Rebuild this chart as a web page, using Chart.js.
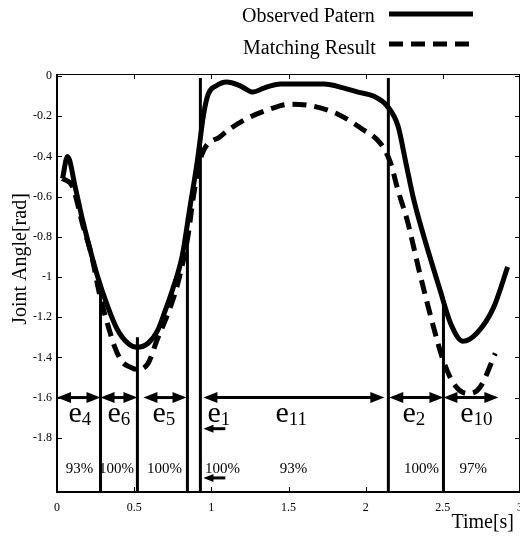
<!DOCTYPE html>
<html>
<head>
<meta charset="utf-8">
<script src="https://cdn.jsdelivr.net/npm/chart.js@4.4.1/dist/chart.umd.min.js"></script>
<style>
    html, body { margin: 0; padding: 0; background: #fff; }
    #wrap { width: 520px; height: 537px; }
</style>
</head>
<body>
<div id="wrap"><canvas id="angleChart" width="520" height="537"></canvas></div>
<script>
// Joint angle: observed pattern vs matching result

// observed pattern (solid)
const observedTime = [0.036, 0.068, 0.12, 0.17, 0.26, 0.33, 0.39, 0.46, 0.52, 0.59, 0.65, 0.70, 0.75, 0.81, 0.86, 0.91, 0.95, 0.98,
    1.03, 1.10, 1.19, 1.27, 1.34, 1.45, 1.60, 1.73, 1.86, 1.95, 2.05, 2.14, 2.21, 2.26, 2.31, 2.37, 2.48, 2.55, 2.63, 2.72, 2.83, 2.92];
const observedAngle = [-0.51, -0.40, -0.56, -0.73, -0.99, -1.15, -1.26, -1.33, -1.35, -1.33, -1.27, -1.17, -1.06, -0.90, -0.66, -0.42, -0.19, -0.09,
    -0.05, -0.03, -0.05, -0.08, -0.06, -0.04, -0.04, -0.04, -0.06, -0.08, -0.10, -0.15, -0.25, -0.43, -0.61, -0.78, -1.06, -1.23, -1.32, -1.28, -1.15, -0.95];

// matching result (dashed)
const matchTime = [0.036, 0.10, 0.17, 0.22, 0.28, 0.33, 0.37, 0.42, 0.48, 0.52, 0.59, 0.65, 0.72, 0.78, 0.85, 0.88, 0.93,
    1.06, 1.21, 1.36, 1.51, 1.66, 1.82, 1.97, 2.10, 2.16, 2.21, 2.27, 2.35, 2.44, 2.50, 2.57, 2.66, 2.74, 2.84];
const matchAngle = [-0.51, -0.55, -0.75, -0.88, -1.10, -1.24, -1.34, -1.42, -1.45, -1.46, -1.43, -1.31, -1.18, -1.04, -0.79, -0.62, -0.41,
    -0.30, -0.22, -0.17, -0.14, -0.15, -0.19, -0.26, -0.34, -0.43, -0.57, -0.72, -0.98, -1.25, -1.41, -1.53, -1.58, -1.55, -1.38];

// segment boundaries (vertical bars)
const boundaryTime = [0.282, 0.521, 0.845, 0.929, 2.147, 2.504];
const boundaryTop = [-1.06, -1.30, -0.70, -0.01, -0.01, -1.10];

// double arrows at -1.6
const arrowFrom = [0.0, 0.282, 0.56, 0.949, 2.153, 2.504];
const arrowTo = [0.282, 0.521, 0.839, 2.121, 2.504, 2.86];
const arrowLevel = -1.6;
// small left arrows next to e1
const noteArrowFrom = 1.091;
const noteArrowTo = 0.949;
const noteArrowLevels = [-1.755, -2.0];

// segment names and scores
const segNames = ['4', '6', '5', '1', '11', '2', '10'];
const segNameTime = [0.074, 0.327, 0.618, 0.975, 1.415, 2.238, 2.613];
const segNameLevel = -1.72;
const segScores = ['93%', '100%', '100%', '100%', '93%', '100%', '97%'];
const segScoreTime = [0.146, 0.385, 0.696, 1.072, 1.532, 2.361, 2.697];
const segScoreLevel = -1.973;

// axes
const xTicks = [0, 0.5, 1, 1.5, 2, 2.5, 3];
const xTickLabels = ['0', '0.5', '1', '1.5', '2', '2.5', '3'];
const yTicks = [0, -0.2, -0.4, -0.6, -0.8, -1, -1.2, -1.4, -1.6, -1.8];
const yTickLabels = ['0', '-0.2', '-0.4', '-0.6', '-0.8', '-1', '-1.2', '-1.4', '-1.6', '-1.8'];
const Y_MIN = -2.07;
const Y_MAX = 0.01;

const SERIF = '"Liberation Serif", "DejaVu Serif", serif';

const toPoints = (xs, ys) => xs.map((x, i) => ({ x: x, y: ys[i] }));

const boundaryPoints = [];
boundaryTime.forEach((t, i) => {
    boundaryPoints.push({ x: t, y: boundaryTop[i] });
    boundaryPoints.push({ x: t, y: Y_MIN });
    boundaryPoints.push({ x: t, y: null });
});

// frame + inward ticks on all four sides
const framePlugin = {
    id: 'frame',
    afterDraw(chart) {
        const { ctx, chartArea: a, scales: { x, y } } = chart;
        ctx.save();
        ctx.strokeStyle = '#000';
        ctx.lineWidth = 1;
        ctx.beginPath();
        ctx.moveTo(a.left, a.top + 0.5);
        ctx.lineTo(a.right, a.top + 0.5);
        ctx.moveTo(a.right - 0.5, a.top);
        ctx.lineTo(a.right - 0.5, a.bottom);
        xTicks.forEach(v => {
            const px = Math.round(x.getPixelForValue(v)) + 0.5;
            ctx.moveTo(px, a.bottom);
            ctx.lineTo(px, a.bottom - 5);
            ctx.moveTo(px, a.top);
            ctx.lineTo(px, a.top + 5);
        });
        yTicks.forEach(v => {
            const py = Math.round(y.getPixelForValue(v)) + 0.5;
            ctx.moveTo(a.left, py);
            ctx.lineTo(a.left + 5, py);
            ctx.moveTo(a.right, py);
            ctx.lineTo(a.right - 5, py);
        });
        ctx.stroke();
        ctx.lineWidth = 2;
        ctx.beginPath();
        ctx.moveTo(a.left, a.top);
        ctx.lineTo(a.left, a.bottom);
        ctx.lineTo(a.right, a.bottom);
        ctx.stroke();
        ctx.restore();
    }
};

function arrowHead(ctx, tipX, tipY, dir) {
    // dir: -1 points left, 1 points right
    ctx.beginPath();
    ctx.moveTo(tipX, tipY);
    ctx.lineTo(tipX - dir * 14, tipY - 5.5);
    ctx.lineTo(tipX - dir * 14, tipY + 5.5);
    ctx.closePath();
    ctx.fill();
}

// arrows, segment names and scores
const notesPlugin = {
    id: 'notes',
    afterDatasetsDraw(chart) {
        const { ctx, scales: { x, y } } = chart;
        ctx.save();
        ctx.fillStyle = '#000';
        ctx.strokeStyle = '#000';
        ctx.lineWidth = 3;

        const ay = y.getPixelForValue(arrowLevel);
        arrowFrom.forEach((t, i) => {
            const x1 = x.getPixelForValue(t);
            const x2 = x.getPixelForValue(arrowTo[i]);
            ctx.beginPath();
            ctx.moveTo(x1 + 10, ay);
            ctx.lineTo(x2 - 10, ay);
            ctx.stroke();
            arrowHead(ctx, x1, ay, -1);
            arrowHead(ctx, x2, ay, 1);
        });

        noteArrowLevels.forEach(lv => {
            const py = y.getPixelForValue(lv);
            const x1 = x.getPixelForValue(noteArrowFrom);
            const x2 = x.getPixelForValue(noteArrowTo);
            ctx.lineWidth = 3;
            ctx.beginPath();
            ctx.moveTo(x1, py);
            ctx.lineTo(x2 + 8, py);
            ctx.stroke();
            ctx.beginPath();
            ctx.moveTo(x2, py);
            ctx.lineTo(x2 + 10, py - 4);
            ctx.lineTo(x2 + 10, py + 4);
            ctx.closePath();
            ctx.fill();
        });

        // e with subscript
        ctx.textBaseline = 'alphabetic';
        ctx.textAlign = 'left';
        const ny = y.getPixelForValue(segNameLevel);
        segNames.forEach((s, i) => {
            const px = x.getPixelForValue(segNameTime[i]);
            ctx.font = '30px ' + SERIF;
            ctx.fillText('e', px, ny);
            const w = ctx.measureText('e').width;
            ctx.font = '19px ' + SERIF;
            ctx.fillText(s, px + w, ny + 3);
        });

        ctx.font = '15px ' + SERIF;
        ctx.textAlign = 'center';
        const sy = y.getPixelForValue(segScoreLevel);
        segScores.forEach((s, i) => {
            ctx.fillText(s, x.getPixelForValue(segScoreTime[i]), sy);
        });
        ctx.restore();
    }
};

// legend at top right and axis titles
const titlesPlugin = {
    id: 'titles',
    afterDraw(chart) {
        const { ctx } = chart;
        const ds = chart.data.datasets;
        ctx.save();
        ctx.fillStyle = '#000';
        ctx.strokeStyle = '#000';
        ctx.font = '20px ' + SERIF;
        ctx.textAlign = 'left';
        ctx.textBaseline = 'alphabetic';
        ctx.fillText(ds[0].label, 242, 22);
        ctx.fillText(ds[1].label, 243, 54);

        ctx.lineWidth = 5;
        ctx.lineCap = 'butt';
        ctx.setLineDash([]);
        ctx.beginPath();
        ctx.moveTo(389, 14);
        ctx.lineTo(473, 14);
        ctx.stroke();
        ctx.setLineDash(ds[1].borderDash);
        ctx.beginPath();
        ctx.moveTo(389, 44);
        ctx.lineTo(473, 44);
        ctx.stroke();
        ctx.setLineDash([]);

        ctx.font = '20px ' + SERIF;
        ctx.textAlign = 'right';
        ctx.fillText('Time[s]', 514, 528);

        ctx.translate(26, 259);
        ctx.rotate(-Math.PI / 2);
        ctx.textAlign = 'center';
        ctx.fillText('Joint Angle[rad]', 0, 0);
        ctx.restore();
    }
};

const ctx = document.getElementById('angleChart');
new Chart(ctx, {
    type: 'line',
    data: {
        datasets: [{
            label: 'Observed Patern',
            data: toPoints(observedTime, observedAngle),
            borderColor: '#000',
            borderWidth: 5,
            pointRadius: 0,
            cubicInterpolationMode: 'monotone',
            fill: false
        }, {
            label: 'Matching Result',
            data: toPoints(matchTime, matchAngle),
            borderColor: '#000',
            borderWidth: 5,
            borderDash: [14, 8],
            borderCapStyle: 'butt',
            pointRadius: 0,
            cubicInterpolationMode: 'monotone',
            fill: false
        }, {
            label: 'boundaries',
            data: boundaryPoints,
            borderColor: '#000',
            borderWidth: 3,
            pointRadius: 0,
            tension: 0,
            spanGaps: false,
            fill: false
        }]
    },
    options: {
        responsive: false,
        animation: false,
        layout: {
            autoPadding: false,
            padding: { top: 74, left: 0, right: 0, bottom: 0 }
        },
        plugins: {
            legend: { display: false },
            tooltip: { enabled: false }
        },
        scales: {
            x: {
                type: 'linear',
                min: 0,
                max: 3,
                afterBuildTicks: scale => { scale.ticks = xTicks.map(v => ({ value: v })); },
                afterFit: scale => {
                    scale.height = 45;
                    // let the "3" run off the edge like the original
                    scale.paddingLeft = 0;
                    scale.paddingRight = 0;
                },
                grid: { display: false, drawTicks: false },
                border: { display: false },
                ticks: {
                    color: '#000',
                    padding: 9,
                    maxRotation: 0,
                    font: { family: SERIF, size: 12 },
                    callback: (v, i) => xTickLabels[i]
                }
            },
            y: {
                type: 'linear',
                min: Y_MIN,
                max: Y_MAX,
                afterBuildTicks: scale => { scale.ticks = yTicks.map(v => ({ value: v })); },
                afterFit: scale => {
                    scale.width = 57;
                    scale.paddingTop = 0;
                    scale.paddingBottom = 0;
                },
                grid: { display: false, drawTicks: false },
                border: { display: false },
                ticks: {
                    color: '#000',
                    padding: 5,
                    font: { family: SERIF, size: 12 },
                    callback: (v, i) => yTickLabels[i]
                }
            }
        }
    },
    plugins: [framePlugin, notesPlugin, titlesPlugin]
});
</script>
</body>
</html>
